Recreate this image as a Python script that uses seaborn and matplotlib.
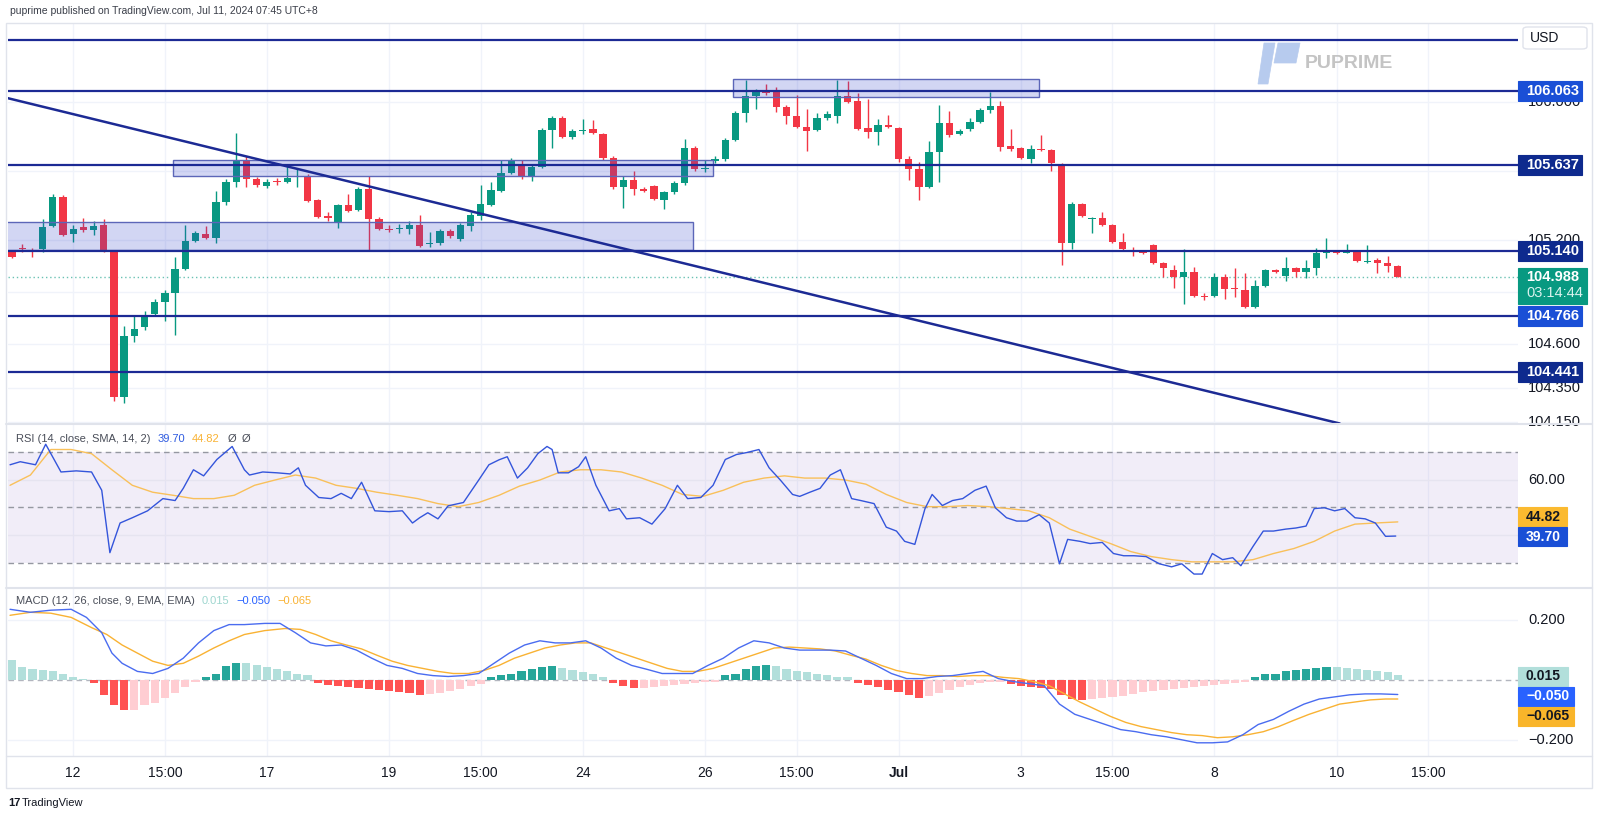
import numpy as np
import pandas as pd
import matplotlib
matplotlib.use("Agg")
import matplotlib.pyplot as plt
import seaborn as sns
from matplotlib.patches import Rectangle, Polygon, FancyBboxPatch
from matplotlib.lines import Line2D

sns.set_theme(style="white")
plt.rcParams["font.family"] = ["Liberation Sans", "DejaVu Sans"]

# ---- candles (4h) ----
opens = [105.133, 105.156, 105.139, 105.150, 105.283, 105.451, 105.237, 105.277, 105.260, 105.289,
         105.139, 104.296, 104.648, 104.700, 104.775, 104.844, 104.896, 105.035, 105.196, 105.237,
         105.214, 105.422, 105.537, 105.664, 105.554, 105.514, 105.543, 105.537, 105.566, 105.572,
         105.433, 105.341, 105.300, 105.404, 105.375, 105.497, 105.324, 105.266, 105.266, 105.266,
         105.289, 105.179, 105.185, 105.254, 105.208, 105.283, 105.341, 105.404, 105.485, 105.589,
         105.641, 105.572, 105.624, 105.838, 105.907, 105.797, 105.832, 105.843, 105.814, 105.676,
         105.508, 105.549, 105.497, 105.514, 105.433, 105.479, 105.531, 105.734, 105.612, 105.658,
         105.670, 105.780, 105.936, 106.034, 106.057, 106.063, 105.970, 105.918, 105.855, 105.838,
         105.907, 105.918, 106.034, 106.005, 105.849, 105.826, 105.867, 105.849, 105.670, 105.612,
         105.508, 105.710, 105.878, 105.814, 105.843, 105.884, 105.953, 105.976, 105.745, 105.734,
         105.670, 105.728, 105.722, 105.641, 105.185, 105.410, 105.326, 105.329, 105.289, 105.191,
         105.145, 105.139, 105.173, 105.069, 105.029, 104.989, 105.018, 104.876, 104.879, 104.989,
         104.922, 104.914, 104.815, 104.937, 105.029, 104.995, 105.041, 105.018, 105.041, 105.130,
         105.133, 105.130, 105.133, 105.078, 105.087, 105.069, 105.052]
highs = [105.145, 105.179, 105.156, 105.324, 105.468, 105.462, 105.289, 105.329, 105.312, 105.324,
         105.145, 104.706, 104.764, 104.792, 104.862, 104.914, 105.104, 105.289, 105.254, 105.283,
         105.485, 105.554, 105.820, 105.687, 105.566, 105.554, 105.560, 105.635, 105.618, 105.583,
         105.439, 105.364, 105.410, 105.468, 105.508, 105.572, 105.335, 105.289, 105.295, 105.312,
         105.347, 105.248, 105.266, 105.266, 105.300, 105.364, 105.520, 105.537, 105.664, 105.676,
         105.664, 105.635, 105.849, 105.918, 105.918, 105.843, 105.901, 105.895, 105.820, 105.687,
         105.572, 105.601, 105.508, 105.520, 105.485, 105.543, 105.786, 105.745, 105.664, 105.687,
         105.791, 105.947, 106.126, 106.074, 106.104, 106.086, 105.982, 106.040, 105.959, 105.936,
         105.947, 106.126, 106.121, 106.051, 106.017, 105.901, 105.924, 105.855, 105.687, 105.653,
         105.774, 105.982, 105.947, 105.843, 105.907, 105.965, 106.057, 106.005, 105.843, 105.739,
         105.751, 105.809, 105.728, 105.647, 105.422, 105.416, 105.335, 105.364, 105.295, 105.243,
         105.162, 105.145, 105.179, 105.075, 105.058, 105.150, 105.046, 104.896, 105.012, 105.006,
         105.041, 105.012, 104.971, 105.035, 105.035, 105.104, 105.046, 105.087, 105.156, 105.214,
         105.145, 105.179, 105.145, 105.173, 105.098, 105.110, 105.058]
lows = [105.098, 105.133, 105.104, 105.133, 105.277, 105.225, 105.191, 105.248, 105.231, 105.133,
        104.273, 104.261, 104.614, 104.683, 104.769, 104.735, 104.654, 105.029, 105.191, 105.208,
        105.185, 105.404, 105.508, 105.508, 105.508, 105.502, 105.520, 105.531, 105.508, 105.422,
        105.329, 105.312, 105.272, 105.364, 105.370, 105.139, 105.260, 105.248, 105.243, 105.237,
        105.162, 105.162, 105.173, 105.214, 105.196, 105.254, 105.318, 105.399, 105.479, 105.583,
        105.554, 105.543, 105.618, 105.734, 105.791, 105.786, 105.814, 105.814, 105.664, 105.497,
        105.387, 105.462, 105.479, 105.433, 105.381, 105.468, 105.520, 105.601, 105.595, 105.647,
        105.658, 105.774, 105.884, 105.959, 106.040, 105.941, 105.872, 105.849, 105.716, 105.832,
        105.895, 105.878, 105.994, 105.838, 105.791, 105.751, 105.849, 105.653, 105.549, 105.433,
        105.502, 105.537, 105.797, 105.809, 105.832, 105.878, 105.936, 105.716, 105.716, 105.670,
        105.647, 105.716, 105.601, 105.058, 105.150, 105.335, 105.243, 105.283, 105.185, 105.145,
        105.110, 105.121, 105.064, 104.989, 104.925, 104.833, 104.873, 104.856, 104.873, 104.862,
        104.873, 104.810, 104.810, 104.931, 105.012, 104.966, 104.989, 104.983, 105.000, 105.098,
        105.121, 105.127, 105.075, 105.069, 105.012, 105.018, 104.988]
closes = [105.104, 105.150, 105.133, 105.277, 105.451, 105.231, 105.266, 105.260, 105.283, 105.139,
          104.296, 104.648, 104.689, 104.769, 104.844, 104.896, 105.035, 105.196, 105.243, 105.214,
          105.422, 105.537, 105.664, 105.554, 105.520, 105.537, 105.537, 105.560, 105.572, 105.428,
          105.335, 105.329, 105.404, 105.370, 105.497, 105.324, 105.266, 105.263, 105.272, 105.289,
          105.168, 105.185, 105.254, 105.225, 105.289, 105.347, 105.410, 105.491, 105.589, 105.664,
          105.566, 105.624, 105.838, 105.907, 105.797, 105.832, 105.838, 105.820, 105.676, 105.508,
          105.549, 105.497, 105.485, 105.439, 105.479, 105.531, 105.734, 105.612, 105.618, 105.670,
          105.780, 105.936, 106.034, 106.057, 106.051, 105.970, 105.918, 105.855, 105.832, 105.907,
          105.930, 106.034, 105.999, 105.843, 105.826, 105.867, 105.855, 105.670, 105.612, 105.508,
          105.710, 105.878, 105.809, 105.832, 105.884, 105.953, 105.976, 105.739, 105.728, 105.676,
          105.728, 105.722, 105.647, 105.185, 105.410, 105.341, 105.329, 105.289, 105.191, 105.150,
          105.133, 105.127, 105.069, 105.041, 104.989, 105.018, 104.879, 104.873, 104.989, 104.919,
          104.919, 104.815, 104.937, 105.029, 105.018, 105.041, 105.018, 105.041, 105.127, 105.133,
          105.130, 105.133, 105.081, 105.081, 105.069, 105.052, 104.988]

# drawn levels, zones and trend line
levels = [106.357, 106.063, 105.637, 105.140, 104.766, 104.441]
zone_x0 = [-1.0, 15.8, 70.8]
zone_x1 = [66.8, 68.8, 100.8]
zone_lo = [105.145, 105.572, 106.028]
zone_hi = [105.306, 105.667, 106.132]
trend_x = [-1.0, 130.3]
trend_y = [106.030, 104.143]
last_price = 104.988

# ---- RSI (14) and its SMA ----
rsi_x = [-0.2, 0.8, 2.3, 3.3, 4.8, 6.3, 7.8, 8.8, 9.6, 10.6, 11.8, 13.3, 14.8, 16, 16.8, 17.8, 18.8,
         20.1, 21.6, 22.8, 23.3, 24.6, 26, 27.3, 28.1, 28.8, 30.1, 31.3, 32.3, 33.3, 34.3, 35.6, 37,
         38.3, 39.3, 40, 40.8, 41.8, 42.8, 44.3, 45.8, 46.8, 47.8, 48.6, 49.6, 50.6, 51.6, 52.5, 53,
         53.6, 54.6, 55.6, 56.3, 57.3, 58.6, 59.6, 60.3, 61.6, 62.8, 64.1, 65.3, 66.3, 67.6, 68.8, 70,
         71.1, 72.1, 73.3, 74.3, 75.4, 76.6, 77.3, 78.3, 79.3, 80.3, 81.3, 82.4, 83.3, 84.6, 85.8,
         86.8, 87.6, 88.6, 89.6, 90.3, 91.3, 92.3, 93.3, 94.5, 95.6, 96.5, 97.6, 98.6, 99.6, 100.8,
         101.8, 102.8, 103.6, 104.8, 105.8, 107, 108.1, 109.1, 110.1, 111.3, 112.6, 113.8, 114.8,
         116, 116.8, 117.8, 118.8, 119.8, 120.6, 121.8, 122.8, 123.8, 125, 126, 127, 127.8, 128.8,
         129.8, 130.8, 131.8, 132.8, 133.8, 134.8, 135.8]
rsi_val = [65.4, 66.5, 65.4, 72.8, 62.8, 63.2, 62.8, 56.2, 33.7, 44.4, 46.3, 48.8, 53.2, 52.5, 56.9,
           63.6, 61.4, 67.3, 72.0, 63.6, 61.7, 62.8, 62.5, 62.1, 64.3, 58.0, 53.6, 53.2, 55.1, 53.2,
           59.1, 48.8, 48.5, 48.8, 44.4, 46.3, 48.1, 45.9, 50.6, 51.8, 59.9, 65.4, 67.2, 68.3, 60.6,
           64.3, 69.4, 72.0, 70.9, 62.5, 62.5, 64.7, 68.3, 58.0, 48.8, 49.6, 45.9, 46.3, 44.0, 49.6,
           58.0, 53.2, 53.6, 58.0, 67.3, 69.1, 69.8, 70.9, 64.3, 59.9, 54.7, 54.0, 55.5, 56.9, 61.7,
           63.6, 53.2, 52.5, 51.4, 42.9, 41.5, 37.8, 36.7, 49.6, 54.7, 50.7, 52.5, 53.2, 56.2, 57.7,
           49.9, 46.3, 45.1, 45.1, 47.4, 44.4, 29.7, 38.5, 37.8, 37.0, 37.4, 33.4, 32.6, 32.6, 32.3,
           29.7, 28.6, 29.7, 26.0, 26.0, 33.4, 31.2, 31.9, 29.0, 36.0, 41.5, 41.5, 42.2, 42.6, 43.3,
           49.6, 49.9, 48.8, 49.6, 46.3, 45.9, 44.4, 39.6, 39.7]
sma_x = [-0.2, 1.8, 3.8, 5.8, 7.8, 9.8, 11.8, 13.8, 15.8, 17.8, 19.8, 21.8, 23.8, 25.8, 27.8, 29.8,
         31.8, 33.8, 35.8, 37.8, 39.8, 41.8, 43.8, 45.8, 47.8, 49.8, 51.8, 53.8, 55.8, 57.8, 59.8,
         61.8, 63.8, 65.8, 67.8, 69.8, 71.8, 73.8, 75.8, 77.8, 79.8, 81.8, 83.8, 85.8, 87.8, 89.8,
         91.8, 93.8, 95.8, 97.8, 99.8, 101.8, 103.8, 105.8, 107.8, 109.8, 111.8, 113.8, 115.8, 117.8,
         119.8, 121.8, 123.8, 125.8, 127.8, 129.8, 131.8, 133.8, 136.0]
sma_val = [58.0, 61.7, 70.9, 70.9, 69.4, 63.6, 58.0, 55.5, 54.4, 53.2, 53.2, 54.4, 58.0, 59.9, 61.7,
           60.6, 58.0, 56.9, 55.5, 54.4, 53.2, 51.4, 50.3, 51.8, 54.4, 57.7, 59.9, 62.8, 63.6, 63.6,
           62.8, 60.6, 58.0, 54.7, 54.0, 56.2, 59.1, 60.6, 61.4, 60.6, 60.6, 59.9, 58.4, 54.7, 51.8,
           50.3, 50.3, 50.7, 50.3, 49.6, 48.8, 46.3, 42.2, 39.6, 37.0, 34.1, 32.3, 31.2, 30.4, 30.4,
           30.4, 31.2, 33.4, 35.2, 37.8, 41.5, 44.0, 44.4, 44.8]

# ---- MACD (12, 26, 9) ----
macd_x = [-0.2, 1.8, 3.8, 5.8, 7.3, 8.8, 9.8, 10.8, 12.3, 13.8, 15.3, 16.8, 18.3, 19.8, 21.3, 22.8,
          24.8, 26.3, 27.8, 29.3, 30.8, 32.3, 33.8, 35.3, 36.8, 38.3, 39.8, 41.3, 42.8, 44.3, 45.8,
          47.3, 48.8, 50.3, 51.8, 53.3, 54.8, 56.3, 57.8, 59.3, 60.8, 62.3, 63.8, 65.3, 66.8, 68.3,
          69.8, 71.3, 72.8, 74.3, 75.8, 77.3, 78.8, 80.3, 81.8, 83.3, 84.8, 86.3, 87.8, 89.3, 90.8,
          92.3, 93.8, 95.3, 96.8, 98.3, 99.8, 101.3, 102.8, 104.3, 105.8, 107.3, 108.8, 110.3, 111.8,
          113.3, 114.8, 116.3, 117.8, 119.3, 120.8, 122.3, 123.8, 125.3, 126.8, 128.3, 129.8, 131.3,
          132.8, 134.3, 136.0]
macd_val = [0.234, 0.224, 0.231, 0.234, 0.207, 0.156, 0.088, 0.054, 0.027, 0.020, 0.037, 0.071,
            0.122, 0.163, 0.183, 0.183, 0.187, 0.187, 0.156, 0.122, 0.112, 0.115, 0.098, 0.071,
            0.047, 0.037, 0.020, 0.013, 0.010, 0.013, 0.020, 0.054, 0.088, 0.115, 0.129, 0.122,
            0.122, 0.129, 0.105, 0.071, 0.047, 0.034, 0.020, 0.020, 0.020, 0.047, 0.071, 0.105,
            0.129, 0.122, 0.105, 0.098, 0.098, 0.098, 0.095, 0.071, 0.047, 0.020, 0.003, 0.003,
            0.010, 0.013, 0.020, 0.027, 0.003, -0.007, -0.014, -0.021, -0.082, -0.116, -0.133,
            -0.150, -0.167, -0.174, -0.184, -0.191, -0.201, -0.211, -0.211, -0.208, -0.184, -0.150,
            -0.133, -0.106, -0.082, -0.065, -0.058, -0.051, -0.048, -0.048, -0.050]
signal_x = [-0.2, 1.8, 3.8, 5.8, 7.8, 9.3, 10.8, 12.3, 13.8, 15.3, 16.8, 18.3, 19.8, 21.3, 22.8,
            24.8, 26.8, 28.3, 29.8, 31.3, 32.8, 34.3, 35.8, 37.3, 38.8, 40.3, 41.8, 43.3, 44.8, 46.3,
            47.8, 49.3, 50.8, 52.3, 53.8, 55.3, 56.8, 58.3, 59.8, 61.3, 62.8, 64.3, 65.8, 67.3, 68.8,
            70.3, 71.8, 73.3, 74.8, 76.3, 77.8, 79.3, 80.8, 82.3, 83.8, 85.3, 86.8, 88.3, 89.8, 91.3,
            92.8, 94.3, 95.8, 97.3, 98.8, 100.3, 101.8, 103.3, 104.8, 106.3, 107.8, 109.3, 110.8,
            112.3, 113.8, 115.3, 116.8, 118.3, 119.8, 121.3, 122.8, 124.3, 125.8, 127.3, 128.8, 130.3,
            131.8, 133.3, 134.8, 136.0]
signal_val = [0.214, 0.224, 0.221, 0.207, 0.173, 0.150, 0.115, 0.088, 0.061, 0.047, 0.054, 0.078,
              0.105, 0.129, 0.150, 0.163, 0.170, 0.167, 0.150, 0.129, 0.115, 0.102, 0.081, 0.061,
              0.047, 0.037, 0.027, 0.020, 0.020, 0.030, 0.047, 0.071, 0.088, 0.105, 0.115, 0.122,
              0.122, 0.105, 0.088, 0.071, 0.054, 0.037, 0.027, 0.027, 0.037, 0.054, 0.071, 0.088,
              0.105, 0.108, 0.105, 0.102, 0.095, 0.081, 0.068, 0.047, 0.030, 0.020, 0.013, 0.013,
              0.010, 0.013, 0.013, 0.007, 0.003, -0.007, -0.021, -0.048, -0.075, -0.099, -0.123,
              -0.143, -0.157, -0.167, -0.177, -0.184, -0.187, -0.194, -0.191, -0.184, -0.174,
              -0.157, -0.136, -0.116, -0.099, -0.082, -0.075, -0.068, -0.065, -0.065]
macd_hist = [0.065, 0.041, 0.034, 0.033, 0.027, 0.017, 0.007, 0.003, -0.010, -0.051,
             -0.085, -0.102, -0.102, -0.085, -0.078, -0.061, -0.044, -0.024, -0.007, 0.010,
             0.017, 0.044, 0.054, 0.054, 0.048, 0.041, 0.034, 0.027, 0.020, 0.014,
             -0.010, -0.017, -0.020, -0.024, -0.027, -0.031, -0.034, -0.037, -0.041, -0.044,
             -0.051, -0.048, -0.044, -0.037, -0.031, -0.020, -0.014, 0.007, 0.014, 0.020,
             0.027, 0.034, 0.041, 0.044, 0.037, 0.031, 0.024, 0.020, 0.010, -0.010,
             -0.020, -0.027, -0.027, -0.024, -0.020, -0.017, -0.014, -0.010, -0.007, -0.007,
             0.014, 0.020, 0.034, 0.044, 0.048, 0.044, 0.034, 0.027, 0.024, 0.017,
             0.014, 0.010, 0.007, -0.010, -0.017, -0.024, -0.034, -0.041, -0.051, -0.061,
             -0.054, -0.044, -0.034, -0.024, -0.017, -0.010, -0.007, -0.007, -0.014, -0.020,
             -0.024, -0.027, -0.031, -0.051, -0.065, -0.068, -0.065, -0.061, -0.058, -0.054,
             -0.048, -0.041, -0.037, -0.034, -0.031, -0.027, -0.024, -0.020, -0.017, -0.014,
             -0.010, -0.007, 0.010, 0.017, 0.020, 0.027, 0.031, 0.034, 0.037, 0.041,
             0.041, 0.037, 0.034, 0.031, 0.027, 0.024, 0.015]

tick_idx = [6, 15, 25, 37, 46, 56, 68, 77, 87, 99, 108, 118, 130, 139]
tick_lbl = ["12", "15:00", "17", "19", "15:00", "24", "26", "15:00", "Jul", "3", "15:00", "8", "10", "15:00"]
price_grid = [106.000, 105.600, 105.200, 104.900, 104.600, 104.350, 104.150]
price_lbls = [106.000, 105.200, 104.600, 104.350, 104.150]

GREEN = "#089981"
RED = "#F23645"
NAVY = "#1C2A94"
GRID = "#F0F3FA"
TXT = "#131722"

W, H = 1600, 819
fig = plt.figure(figsize=(16, 8.19), dpi=100)
fig.patch.set_facecolor("white")


def box(x0, y0, x1, y1):
    return [x0 / W, 1 - y1 / H, (x1 - x0) / W, (y1 - y0) / H]


def ftext(x, y, s, **kw):
    return fig.text(x / W, 1 - y / H, s, **kw)


ax_p = fig.add_axes(box(8, 24, 1518, 424))
ax_r = fig.add_axes(box(8, 424, 1518, 588), sharex=ax_p)
ax_m = fig.add_axes(box(8, 588, 1518, 756), sharex=ax_p)
pane_px = {ax_p: 400, ax_r: 164, ax_m: 168}

for ax in (ax_p, ax_r, ax_m):
    ax.set_facecolor("white")
    for s in ax.spines.values():
        s.set_visible(False)
    ax.tick_params(left=False, bottom=False, labelleft=False, labelbottom=False)
    for t in tick_idx:
        ax.axvline(t, color=GRID, lw=1, zorder=0)

ax_p.set_xlim(-0.4, 147.8)
ax_p.set_ylim(104.140, 106.450)
ax_r.set_ylim(20.97, 80.1)
ax_m.set_ylim(-0.255, 0.305)


def tag(ax, val, text, fc, tc="white", off_px=0.0, x1=1582, h=19, sub=None, fs=10.5):
    # off_px > 0 pushes the tag down (stacked tags), < 0 pushes it up
    lo, hi = ax.get_ylim()
    per = (hi - lo) / pane_px[ax]
    yc = val - off_px * per
    top = yc + (h / 2) * per
    full = h if sub is None else 36
    ax.add_patch(Rectangle((1.0, top - full * per), (x1 - 1518) / 1510, full * per,
                           transform=ax.get_yaxis_transform(), fc=fc, ec=fc, lw=0.8,
                           clip_on=False, zorder=20))
    ax.text((1526 - 8) / 1510, yc, text, transform=ax.get_yaxis_transform(), ha="left", va="center",
            color=tc, fontsize=fs, fontweight="bold", clip_on=False, zorder=21)
    if sub is not None:
        ax.text((1526 - 8) / 1510, yc - 16 * per, sub, transform=ax.get_yaxis_transform(), ha="left",
                va="center", color="#D9F2EE", fontsize=fs, clip_on=False, zorder=21)


def axlabel(ax, val, text):
    ax.text((1528 - 8) / 1510, val, text, transform=ax.get_yaxis_transform(), ha="left", va="center",
            color=TXT, fontsize=10.5, clip_on=False, zorder=5)


# ---- price pane ----
for p in price_grid:
    ax_p.axhline(p, color=GRID, lw=1, zorder=0)
for p in price_lbls:
    axlabel(ax_p, p, f"{p:.3f}")

idx = np.arange(len(opens))
o = np.array(opens)
c = np.array(closes)
hi_ = np.array(highs)
lo_ = np.array(lows)
cols = np.where(c >= o, GREEN, RED)
ax_p.vlines(idx, lo_, hi_, colors=cols, lw=1, zorder=3)
ax_p.bar(idx, np.maximum(np.abs(c - o), 0.006), bottom=np.minimum(o, c), width=0.72,
         color=cols, linewidth=0, zorder=4)

for x0, x1, y0, y1 in zip(zone_x0, zone_x1, zone_lo, zone_hi):
    ax_p.add_patch(Rectangle((x0, y0), x1 - x0, y1 - y0, fc=(0.20, 0.27, 0.80, 0.22),
                             ec="#5C66B8", lw=1, zorder=5))

for lv in levels:
    ax_p.axhline(lv, color=NAVY, lw=1.6, zorder=6)
sns.lineplot(x=trend_x, y=trend_y, ax=ax_p, color=NAVY, lw=1.8, zorder=6)
ax_p.axhline(last_price, color=GREEN, lw=1, ls=(0, (1, 2)), alpha=0.6, zorder=2)

tag(ax_p, levels[1], "106.063", "#1A4FD6", h=20)
tag(ax_p, levels[2], "105.637", "#0E2A8E", h=20)
tag(ax_p, levels[3], "105.140", "#0E2A8E", h=20)
tag(ax_p, levels[4], "104.766", "#1A4FD6", h=20)
tag(ax_p, levels[5], "104.441", "#0E2A8E", h=20)
tag(ax_p, last_price, "104.988", GREEN, x1=1587, sub="03:14:44")

# ---- RSI pane ----
ax_r.axhspan(30, 70, color="#7E57C2", alpha=0.1, lw=0, zorder=0)
for lv in (70, 50, 30):
    ax_r.axhline(lv, color="#9598A1", lw=1, ls=(0, (4, 3)), zorder=1)
for lv in (60, 40):
    ax_r.axhline(lv, color="#E6E4F0", lw=1, zorder=0)
sns.lineplot(x=rsi_x, y=rsi_val, ax=ax_r, color="#3455DB", lw=1, zorder=4)
sns.lineplot(x=sma_x, y=sma_val, ax=ax_r, color="#F9C05A", lw=1, zorder=3)
axlabel(ax_r, 60, "60.00")
tag(ax_r, 44.82, "44.82", "#FBBA30", tc=TXT, off_px=-5.0, x1=1567, h=19, fs=10)
tag(ax_r, 39.70, "39.70", "#1A4FD6", off_px=0.5, x1=1567, h=19, fs=10)

# ---- MACD pane ----
for lv in (0.2, -0.2):
    ax_m.axhline(lv, color=GRID, lw=1, zorder=0)
ax_m.axhline(0, color="#B2B5BE", lw=1, ls=(0, (4, 3)), zorder=1)
hist = np.array(macd_hist)
prev = np.r_[hist[0] + 1.0, hist[:-1]]
hcol = np.where(hist >= 0, np.where(hist > prev, "#26A69A", "#B2DFDB"),
                np.where(hist < prev, "#FF5252", "#FFCDD2"))
ax_m.bar(idx, hist, width=0.8, color=hcol, linewidth=0, zorder=2)
sns.lineplot(x=macd_x, y=macd_val, ax=ax_m, color="#4A6CF0", lw=1, zorder=4)
sns.lineplot(x=signal_x, y=signal_val, ax=ax_m, color="#F9B233", lw=1, zorder=3)
axlabel(ax_m, 0.2, "0.200")
axlabel(ax_m, -0.2, "\u22120.200")
tag(ax_m, 0.015, "0.015", "#B2DFDB", tc=TXT, off_px=1, x1=1568, fs=10)
tag(ax_m, -0.050, "\u22120.050", "#2962FF", off_px=1.5, x1=1574, fs=10)
tag(ax_m, -0.065, "\u22120.065", "#F9B52A", tc=TXT, off_px=17, x1=1574, fs=10)

for ax in (ax_p, ax_r, ax_m):
    if ax.get_legend() is not None:
        ax.get_legend().remove()
    ax.set_xlabel("")
    ax.set_ylabel("")
ax_p.set_xlim(-0.4, 147.8)

# x-axis labels
for t, s in zip(tick_idx, tick_lbl):
    ax_m.text(t, -0.10, s, transform=ax_m.get_xaxis_transform(), ha="center", va="center",
              fontsize=10, color=TXT, fontweight="bold" if s == "Jul" else "normal", clip_on=False)

# frame and separators
fig.add_artist(Rectangle((6 / W, 1 - 788 / H), (1592 - 6) / W, (788 - 23) / H, transform=fig.transFigure,
                         fill=False, ec="#E0E3EB", lw=1))
for yy in (424, 588, 756):
    fig.add_artist(Line2D([6 / W, 1592 / W], [1 - yy / H] * 2, transform=fig.transFigure,
                          color="#E0E3EB", lw=1.5 if yy != 756 else 1))

# header, indicator titles (placed one after another so they never collide)
renderer = fig.canvas.get_renderer()


def seq_text(x, y, parts, fs=8):
    for s, col, gap in parts:
        t = ftext(x, y, s, fontsize=fs, color=col, va="center")
        x += t.get_window_extent(renderer).width + gap


ftext(10, 11, "puprime published on TradingView.com, Jul 11, 2024 07:45 UTC+8", fontsize=7.5,
      color="#3A3E49", va="center")
seq_text(16, 439, [("RSI (14, close, SMA, 14, 2)", "#4A4E59", 7),
                   ("39.70", "#2F5BE0", 7),
                   ("44.82", "#F9B233", 8),
                   ("\u00d8", "#4A4E59", 5),
                   ("\u00d8", "#4A4E59", 0)])
seq_text(16, 601, [("MACD (12, 26, close, 9, EMA, EMA)", "#4A4E59", 7),
                   ("0.015", "#9ED6CF", 7),
                   ("\u22120.050", "#2962FF", 7),
                   ("\u22120.065", "#F9B233", 0)])

# USD box
fig.add_artist(FancyBboxPatch((1523 / W, 1 - 49 / H), 64 / W, 22 / H, boxstyle="round,pad=0,rounding_size=0.003",
                              transform=fig.transFigure, fc="white", ec="#E0E3EB", lw=1))
ftext(1530, 38, "USD", fontsize=10, color=TXT, va="center")


# watermark
def fpoly(pts, color):
    fig.add_artist(Polygon([(x / W, 1 - y / H) for x, y in pts], closed=True, transform=fig.transFigure,
                           fc=color, ec=color, lw=0.5))


fpoly([(1258, 84), (1268, 84), (1275, 43), (1264, 43)], "#B7CBEE")
fpoly([(1278, 43), (1300, 43), (1296, 63), (1274, 63)], "#B7CBEE")
ftext(1305, 63, "PUPRIME", fontsize=14, fontweight="bold", color="#C4C4C4", va="center")

# footer
ftext(8, 803, "17", fontsize=8, fontweight="bold", color=TXT, va="center")
ftext(22, 803, "TradingView", fontsize=8, color=TXT, va="center")

fig.savefig("out.png", dpi=100, facecolor="white")
